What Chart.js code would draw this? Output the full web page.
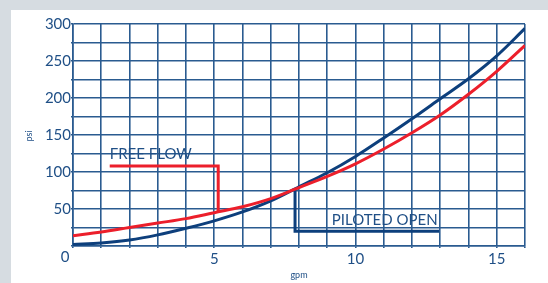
<!DOCTYPE html>
<html>
<head>
<meta charset="utf-8">
<script src="https://cdn.jsdelivr.net/npm/chart.js@4/dist/chart.umd.min.js"></script>
<style>
  html, body { margin: 0; padding: 0; background: #d6dce1; }
  #panel { position: absolute; left: 11px; top: 10px; width: 537px; height: 273px; background: #fff; }
  canvas { display: block; }
</style>
</head>
<body>
<div id="panel"><canvas id="chart" width="537" height="273"></canvas></div>
<script>
// flow (gpm) vs pressure (psi)
var gpm = [0, 1, 2, 3, 4, 5, 6, 7, 8, 9, 10, 11, 12, 13, 14, 15, 16];
var freeFlowPsi = [14, 19, 25, 31, 37, 45, 53, 64, 79, 94, 111, 131, 153, 177, 205, 236, 271];
var pilotedOpenPsi = [2, 4, 8, 15, 24, 34, 46, 61, 80, 99, 121, 146, 172, 199, 226, 257, 294];

// callout lines
var freeFlowMarkX = [1.3, 5.14, 5.14];
var freeFlowMarkY = [108, 108, 47];
var pilotedMarkX = [7.86, 7.86, 12.96];
var pilotedMarkY = [78, 20, 20];

var xTicks = [0, 5, 10, 15];
var yTicks = [50, 100, 150, 200, 250, 300];

var blue = '#0d3f7c';
var red = '#ec1f2b';
var gridColor = '#2a5b90';
var textColor = '#1f4f86';

function toPoints(xs, ys) {
    var pts = [];
    for (var i = 0; i < xs.length; i++) {
        pts.push({ x: xs[i], y: ys[i] });
    }
    return pts;
}

// labels drawn on top of the chart
var labelsPlugin = {
    id: 'labels',
    afterDraw: function (chart) {
        var ctx = chart.ctx;
        var xs = chart.scales.x, ys = chart.scales.y;
        ctx.save();
        ctx.fillStyle = textColor;

        ctx.font = '15px Lato';
        ctx.textAlign = 'left';
        ctx.textBaseline = 'alphabetic';
        ctx.fillText('FREE FLOW', xs.getPixelForValue(1.3), ys.getPixelForValue(108) - 7);
        ctx.fillText('PILOTED OPEN', xs.getPixelForValue(9.16), ys.getPixelForValue(28));

        // origin label
        ctx.textAlign = 'center';
        ctx.textBaseline = 'middle';
        ctx.fillText('0', xs.getPixelForValue(0) - 8, chart.chartArea.bottom + 11);

        ctx.font = '9px Lato';
        ctx.fillText('gpm', (chart.chartArea.left + chart.chartArea.right) / 2, 265);
        ctx.translate(18, 126);
        ctx.rotate(-Math.PI / 2);
        ctx.fillText('psi', 0, 0);
        ctx.restore();
    }
};

new Chart(document.getElementById('chart'), {
    type: 'line',
    data: {
        datasets: [
            { data: toPoints(gpm, freeFlowPsi), borderColor: red, borderWidth: 3, cubicInterpolationMode: 'monotone' },
            { data: toPoints(gpm, pilotedOpenPsi), borderColor: blue, borderWidth: 3, cubicInterpolationMode: 'monotone' },
            { data: toPoints(freeFlowMarkX, freeFlowMarkY), borderColor: red, borderWidth: 3, tension: 0 },
            { data: toPoints(pilotedMarkX, pilotedMarkY), borderColor: blue, borderWidth: 3, tension: 0 }
        ]
    },
    options: {
        responsive: false,
        animation: false,
        events: [],
        elements: { point: { radius: 0 }, line: { borderCapStyle: 'butt', borderJoinStyle: 'miter' } },
        layout: { padding: { top: 14, right: 23, left: 0, bottom: 0 } },
        plugins: { legend: { display: false }, tooltip: { enabled: false } },
        scales: {
            x: {
                type: 'linear',
                min: 0,
                max: 16,
                afterFit: function (scale) { scale.height = 37; },
                border: { color: gridColor, width: 1.6 },
                grid: { color: gridColor, lineWidth: 1.6, tickLength: 2 },
                ticks: {
                    stepSize: 1,
                    autoSkip: false,
                    maxRotation: 0,
                    padding: 2,
                    color: textColor,
                    font: { family: 'Lato', size: 15 },
                    callback: function (v) { return (v > 0 && xTicks.indexOf(v) >= 0) ? String(v) : ''; }
                }
            },
            y: {
                min: 0,
                max: 300,
                afterFit: function (scale) { scale.width = 62; },
                border: { color: gridColor, width: 1.6 },
                grid: { color: gridColor, lineWidth: 1.6, tickLength: 2 },
                ticks: {
                    stepSize: 25,
                    autoSkip: false,
                    padding: 0,
                    color: textColor,
                    font: { family: 'Lato', size: 15 },
                    callback: function (v) { return yTicks.indexOf(v) >= 0 ? String(v) : ''; }
                }
            }
        }
    },
    plugins: [labelsPlugin]
});
</script>
</body>
</html>
